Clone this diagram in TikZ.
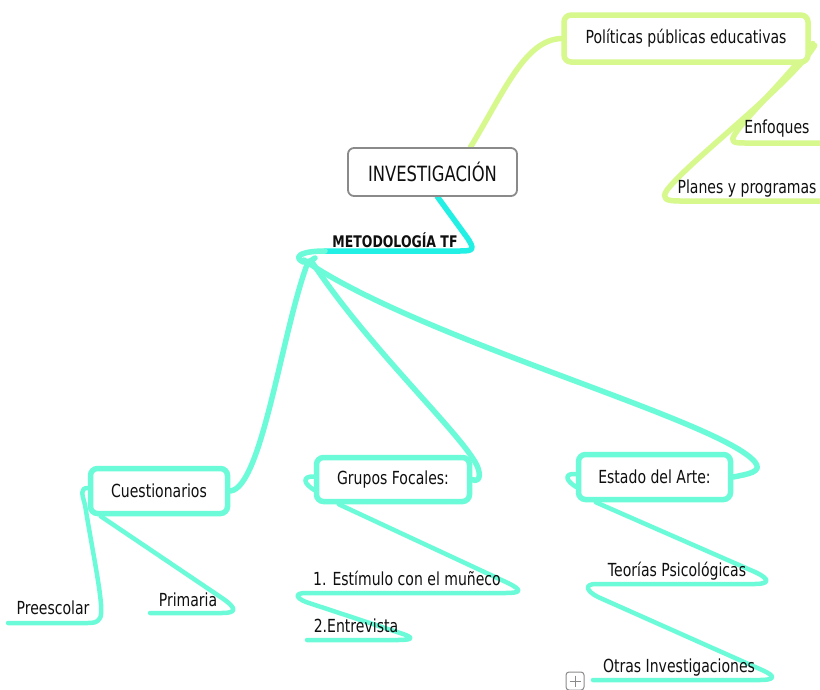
\documentclass[tikz,border=0pt]{standalone}
\usepackage{fontspec}
\setmainfont{DejaVu Sans}[FakeStretch=0.78]
\usetikzlibrary{calc,backgrounds}
\definecolor{mylime}{RGB}{214,248,140}
\definecolor{mycyan}{RGB}{34,240,228}
\definecolor{myaqua}{RGB}{108,251,216}
\definecolor{rootgray}{RGB}{138,138,138}
\definecolor{txt}{RGB}{15,15,15}
\tikzset{
  rootbox/.style={draw=rootgray, line width=1.8pt, rounded corners=6pt, fill=white, inner sep=0pt,
    minimum width=169pt, minimum height=48pt, text=txt, font=\fontsize{21}{24}\selectfont},
  gbox/.style={draw=mylime, line width=5.5pt, rounded corners=7pt, fill=white, inner sep=0pt,
    text=txt, font=\fontsize{18}{20}\selectfont},
  abox/.style={draw=myaqua, line width=5.5pt, rounded corners=7pt, fill=white, inner sep=0pt,
    text=txt, font=\fontsize{18}{20}\selectfont},
  leaf/.style={inner sep=0pt, text=txt, font=\fontsize{18}{20}\selectfont},
  metlabel/.style={inner sep=0pt, text=txt, font=\bfseries\fontsize{16}{18}\selectfont},
  limeline/.style={draw=mylime, line width=5.5pt, line cap=round, line join=round},
  cyanline/.style={draw=mycyan, line width=5.5pt, line cap=round, line join=round},
  aqualine/.style={draw=myaqua, line width=5.5pt, line cap=round, line join=round},
  aquathin/.style={draw=myaqua, line width=4.5pt, line cap=round, line join=round},
}
\begin{document}
\begin{tikzpicture}[x=1pt,y=-1pt]
\useasboundingbox (0,0) rectangle (820,689);
\clip (0,0) rectangle (820,689);

% nodes
\node[rootbox] (inv) at (432.5,172) {INVESTIGACIÓN};
\node[gbox, minimum width=244pt, minimum height=47pt] (pol) at (686,38.5) {Políticas públicas educativas};
\node[leaf] (enf) at (777,129) {Enfoques};
\node[leaf] (pla) at (747,189) {Planes y programas};
\node[metlabel] (met) at (395,240) {METODOLOGÍA TF};
\node[abox, minimum width=137pt, minimum height=45pt] (cue) at (159,491) {Cuestionarios};
\node[abox, minimum width=153pt, minimum height=44pt] (gru) at (393,479.5) {Grupos Focales:};
\node[abox, minimum width=152pt, minimum height=45pt] (est) at (654.5,477) {Estado del Arte:};
\node[leaf] (pre) at (53,608) {Preescolar};
\node[leaf] (pri) at (188,600) {Primaria};
\node[leaf] (est1) at (407,578) {1. Estímulo con el muñeco};
\node[leaf] (ent) at (356,626) {2.Entrevista};
\node[leaf] (teo) at (677,571) {Teorías Psicológicas};
\node[leaf] (otr) at (679,668) {Otras Investigaciones};
\node[draw=rootgray, line width=1pt, rounded corners=3pt, minimum size=18pt, inner sep=0pt] (plus) at (575,681) {};
\draw[rootgray, line width=1pt] ($(plus.center)+(-5.5,0)$) -- ($(plus.center)+(5.5,0)$)
  ($(plus.center)+(0,-5.5)$) -- ($(plus.center)+(0,5.5)$);

\coordinate (enfend) at (830,143);
\coordinate (plaend) at (830,201);
\coordinate (preend) at (8,623);
\coordinate (priend) at (150,613);
\coordinate (est1end) at (306,593);
\coordinate (entend) at (307,640);
\coordinate (teoend) at (596,584);
\coordinate (otrend) at (593,680);
\coordinate (hub) at (325,251);

\begin{pgfonlayer}{background}
% lime branch
\path[limeline] ($(inv.north)+(38,0)$) .. controls (505,90) and (525,40) .. (pol.west);
\path[limeline] ($(pol.east)+(2,5)$) .. controls (790,75) and (745,118) .. (735,134)
   .. controls (730,142) and (733,143) .. (745,143) -- (enfend);
\path[limeline] ($(pol.east)+(4,7)$) .. controls (790,85) and (690,160) .. (667,190)
   .. controls (661,199) and (666,201) .. (680,201) -- (plaend);
% cyan branch
\path[cyanline] ($(inv.south)+(5,0)$) -- (466,236) .. controls (476,250) and (473,251) .. (460,251) -- (hub);
% hub loop
\path[aqualine] (hub) .. controls (305,251) and (295,255) .. (300,260) .. controls (303,264) and (310,262) .. (315,258);
% to boxes
\path[aqualine] (308,262) .. controls (282,330) and (262,488) .. (cue.east);
\path[aqualine] (312,262) .. controls (370,350) and (468,440) .. (478,468)
   .. controls (482,480) and (476,482) .. (gru.east);
\path[aqualine] (304,260) .. controls (420,340) and (720,420) .. (755,462)
   .. controls (763,472) and (748,474) .. (est.east);
% Cuestionarios children
\path[aquathin] ($(cue.west)+(0,-3)$) .. controls (80,488) and (82,494) .. (85,505)
   .. controls (94,560) and (105,610) .. (100,618) .. controls (97,623) and (94,623) .. (85,623) -- (preend);
\path[aquathin] ($(cue.south west)+(13,0)$) -- (222,598) .. controls (238,609) and (236,613) .. (222,613) -- (priend);
% Grupos children
\path[aquathin] ($(gru.west)+(0,-3)$) .. controls (302,476) and (302,484) .. (318,492);
\path[aquathin] ($(gru.south west)+(25,0)$) -- (508,583) .. controls (524,591) and (520,593) .. (505,593) -- (est1end)
   .. controls (294,593) and (296,598) .. (306,602) -- (400,633) .. controls (416,638) and (412,640) .. (398,640) -- (entend);
% Estado children
\path[aquathin] ($(est.west)+(0,-3)$) .. controls (564,473) and (564,481) .. (580,489);
\path[aquathin] ($(est.south west)+(20,0)$) -- (755,572) .. controls (772,580) and (768,584) .. (755,584) -- (teoend)
   .. controls (584,584) and (586,591) .. (598,597) -- (762,670) .. controls (778,677) and (773,680) .. (760,680) -- (otrend);
\end{pgfonlayer}
\end{tikzpicture}
\end{document}
